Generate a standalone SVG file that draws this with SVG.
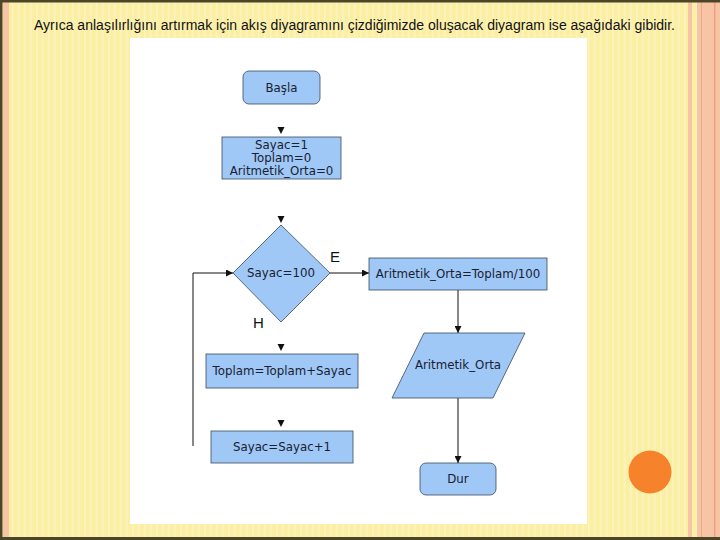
<svg xmlns="http://www.w3.org/2000/svg" width="720" height="540" viewBox="0 0 720 540">
<defs>
<pattern id="stripes" width="6" height="10" patternUnits="userSpaceOnUse">
<rect width="6" height="10" fill="#fbefa6"/>
<rect x="0" width="1.5" height="10" fill="#fdf4bd"/>
</pattern>
<marker id="ah" viewBox="0 0 10 10" refX="10" refY="5" markerWidth="7" markerHeight="7" orient="auto" markerUnits="userSpaceOnUse">
<path d="M0,0 L10,5 L0,10 z" fill="#111"/>
</marker>
</defs>
<style>
.box{fill:#9fc8f7;stroke:#3a4a5a;stroke-width:0.8}
.t{font-family:"DejaVu Sans",sans-serif;font-size:11.8px;fill:#1a2030;text-anchor:middle}
.lbl{font-family:"Liberation Sans",Arial,sans-serif;font-size:15px;fill:#111}
.ln{stroke:#111;stroke-width:1;fill:none}
.tri{fill:#111}
</style>
<!-- slide background -->
<rect x="0" y="0" width="720" height="540" fill="url(#stripes)"/>
<rect x="3" y="0" width="6" height="540" fill="#f8c4a6"/>
<rect x="0" y="0" width="2.5" height="540" fill="#4b4628"/>
<rect x="688" y="0" width="4" height="540" fill="#f8c4a6"/>
<rect x="697" y="0" width="23" height="540" fill="#f8c4a6"/>
<rect x="701" y="0" width="1" height="540" fill="#f0a888"/>
<rect x="714" y="0" width="1.5" height="540" fill="#ee9f7e"/>
<rect x="0" y="0" width="720" height="2.5" fill="#4b4628"/>
<rect x="0" y="537" width="720" height="3" fill="#4b4628"/>
<circle cx="650" cy="472" r="21.5" fill="#f6822b"/>
<text x="354.5" y="30" font-family="Liberation Sans, Arial, sans-serif" font-size="14" fill="#111" text-anchor="middle" textLength="641" lengthAdjust="spacingAndGlyphs">Ayrıca anlaşılırlığını artırmak için akış diyagramını çizdiğimizde oluşacak diyagram ise aşağıdaki gibidir.</text>
<!-- white panel -->
<rect x="130" y="38" width="457" height="486" fill="#ffffff"/>
<!-- connectors -->
<g id="connectors">
<path class="tri" d="M277.5,127 L284.5,127 L281,134 z"/>
<path class="tri" d="M277.5,216 L284.5,216 L281,223 z"/>
<path class="tri" d="M277.5,344 L284.5,344 L281,351 z"/>
<path class="tri" d="M277.5,420 L284.5,420 L281,427 z"/>
<path class="ln" d="M193,446 L193,273 L233,273" marker-end="url(#ah)"/>
<path class="ln" d="M330,273 L369,273" marker-end="url(#ah)"/>
<path class="ln" d="M458,290 L458,333" marker-end="url(#ah)"/>
<path class="ln" d="M458,398 L458,463" marker-end="url(#ah)"/>
<text class="lbl" x="330" y="262">E</text>
<text class="lbl" x="253" y="328">H</text>
</g>
<g id="basla">
<rect class="box" x="243" y="71" width="77" height="33" rx="6"/>
<text class="t" x="281.5" y="92">Başla</text>
</g>
<g id="init">
<rect class="box" x="222" y="137" width="119" height="42"/>
<text class="t" x="281.5" y="149">Sayac=1</text>
<text class="t" x="281.5" y="162">Toplam=0</text>
<text class="t" x="281.5" y="175">Aritmetik_Orta=0</text>
</g>
<g id="karar">
<path class="box" d="M281,225 L330,273 L281,322 L233,273 z"/>
<text class="t" x="281" y="277">Sayac=100</text>
</g>
<g id="toplam">
<rect class="box" x="206" y="354" width="152" height="34"/>
<text class="t" x="282" y="375">Toplam=Toplam+Sayac</text>
</g>
<g id="sayac">
<rect class="box" x="211" y="431" width="142" height="32"/>
<text class="t" x="282" y="451">Sayac=Sayac+1</text>
</g>
<g id="ortalama">
<rect class="box" x="369" y="258" width="178" height="32"/>
<text class="t" x="458" y="278">Aritmetik_Orta=Toplam/100</text>
</g>
<g id="cikti">
<path class="box" d="M424,333 L525,333 L493,398 L392,398 z"/>
<text class="t" x="458" y="369">Aritmetik_Orta</text>
</g>
<g id="dur">
<rect class="box" x="420" y="463" width="76" height="32" rx="6"/>
<text class="t" x="458" y="483">Dur</text>
</g>
</svg>
